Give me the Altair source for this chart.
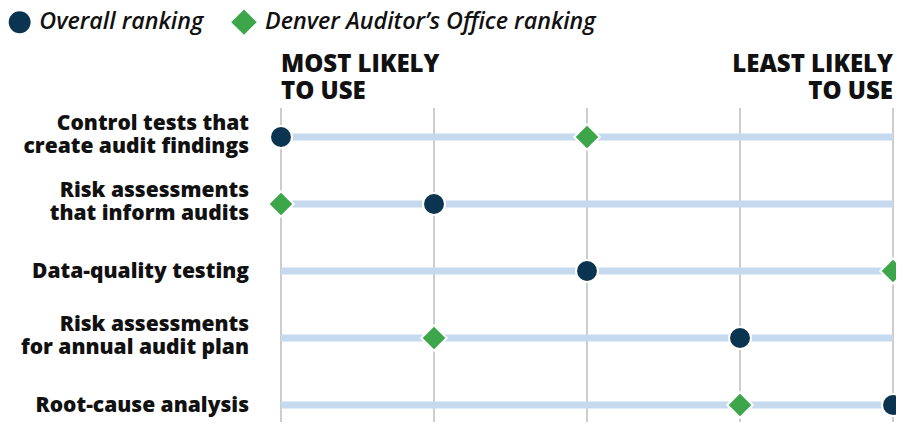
import altair as alt
import pandas as pd

categories = [
    "Control tests that\ncreate audit findings",
    "Risk assessments\nthat inform audits",
    "Data-quality testing",
    "Risk assessments\nfor annual audit plan",
    "Root-cause analysis",
]
overall_rank = [1, 2, 3, 4, 5]
denver_rank = [3, 1, 5, 2, 4]
series_names = ["Overall ranking", "Denver Auditor\u2019s Office ranking"]
rank_ticks = [1, 2, 3, 4, 5]
header_left = "MOST LIKELY\nTO USE"
header_right = "LEAST LIKELY\nTO USE"

FONT = "Open Sans"
NAVY = "#0b3451"
GREEN = "#3da64a"
BAR = "#c5d9ef"
GRID = "#bcbcbc"
INK = "#111111"

rows = list(range(len(categories)))
cat_df = pd.DataFrame({"cat": categories, "row": rows,
                       "multi": ["\n" in c for c in categories],
                       "lo": [rank_ticks[0]] * len(rows), "hi": [rank_ticks[-1]] * len(rows)})
pts = pd.DataFrame({
    "row": rows * 2,
    "rank": overall_rank + denver_rank,
    "series": [series_names[0]] * len(rows) + [series_names[1]] * len(rows),
})
tick_df = pd.DataFrame({"rank": rank_ticks})

W, H = 612, 318
STEP = 67.0
y_lo = -33.0 / STEP
y_hi = y_lo + H / STEP

xs = alt.Scale(domain=[1, 5], nice=False, zero=False)
ys = alt.Scale(domain=[y_lo, y_hi], nice=False, zero=False, reverse=True)

grid = alt.Chart(tick_df).mark_rule(color=GRID, strokeWidth=1.5).encode(
    x=alt.X("rank:Q", scale=xs, axis=None),
    y=alt.value(4),
    y2=alt.value(H + 20),
)

bars = alt.Chart(cat_df).mark_rule(color=BAR, strokeWidth=7).encode(
    x=alt.X("lo:Q", scale=xs, axis=None),
    x2="hi:Q",
    y=alt.Y("row:Q", scale=ys, axis=None),
)

points = alt.Chart(pts).mark_point(filled=True, opacity=1, stroke="white", strokeWidth=2).encode(
    x=alt.X("rank:Q", scale=xs, axis=None),
    y=alt.Y("row:Q", scale=ys, axis=None),
    color=alt.Color("series:N", scale=alt.Scale(domain=series_names, range=[NAVY, GREEN]),
                    legend=alt.Legend(title=None, orient="none", legendX=-273, legendY=-95,
                                      direction="horizontal", labelFont=FONT, labelFontSize=23.3,
                                      labelFontStyle="italic", labelFontWeight=600,
                                      labelColor=INK, columnPadding=27, labelOffset=8,
                                      symbolStrokeWidth=0, labelLimit=450)),
    shape=alt.Shape("series:N", scale=alt.Scale(domain=series_names, range=["circle", "diamond"])),
    size=alt.Size("series:N", scale=alt.Scale(domain=series_names, range=[480, 650])),
)

labels_multi = alt.Chart(cat_df).transform_filter("datum.multi").mark_text(
    align="right", baseline="alphabetic", font=FONT, fontSize=21, fontWeight=800,
    lineBreak="\n", lineHeight=23, color=INK, dy=-7,
).encode(
    x=alt.value(-32),
    y=alt.Y("row:Q", scale=ys, axis=None),
    text="cat:N",
)

labels_single = alt.Chart(cat_df).transform_filter("!datum.multi").mark_text(
    align="right", baseline="middle", font=FONT, fontSize=21, fontWeight=800,
    color=INK, dy=1,
).encode(
    x=alt.value(-32),
    y=alt.Y("row:Q", scale=ys, axis=None),
    text="cat:N",
)

hdr_l = alt.Chart(pd.DataFrame({"t": [header_left], "rank": [rank_ticks[0]]})).mark_text(
    align="left", baseline="alphabetic", font=FONT, fontSize=24, fontWeight=800,
    lineBreak="\n", lineHeight=27, color=INK,
).encode(x=alt.X("rank:Q", scale=xs, axis=None), y=alt.value(-32), text="t:N")

hdr_r = alt.Chart(pd.DataFrame({"t": [header_right], "rank": [rank_ticks[-1]]})).mark_text(
    align="right", baseline="alphabetic", font=FONT, fontSize=24, fontWeight=800,
    lineBreak="\n", lineHeight=27, color=INK,
).encode(x=alt.X("rank:Q", scale=xs, axis=None), y=alt.value(-32), text="t:N")

chart = alt.layer(grid, bars, points, labels_multi, labels_single, hdr_l, hdr_r).properties(
    width=W, height=H,
    autosize=alt.AutoSizeParams(type="none"),
    padding={"left": 273, "top": 96, "right": 888 - 273 - W, "bottom": 0},
).configure_view(stroke=None)

chart.save("out.html", embed_options={"renderer": "svg", "actions": False})
